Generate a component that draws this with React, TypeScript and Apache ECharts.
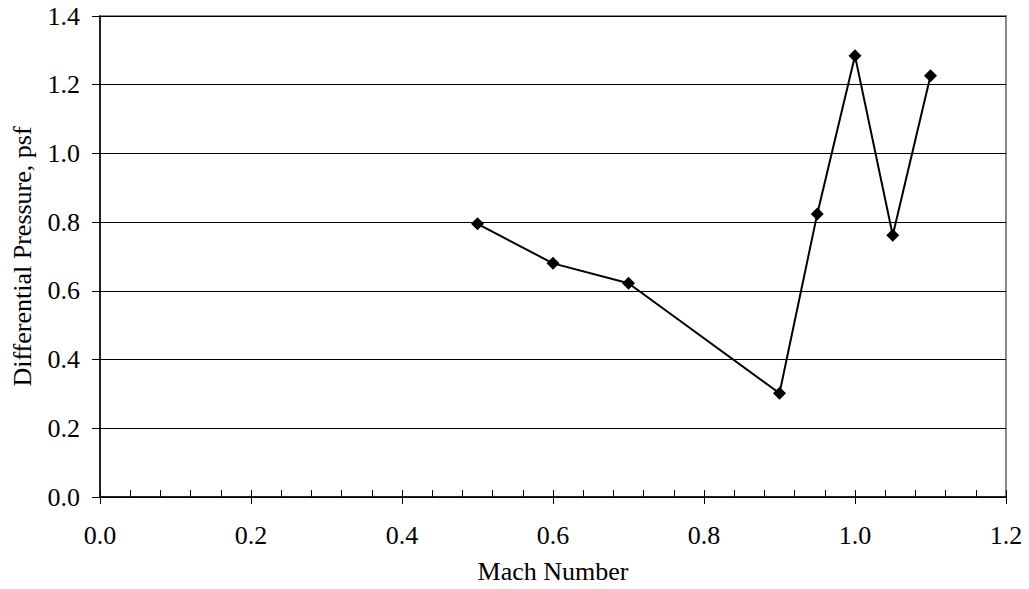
import React, { useEffect, useRef } from "react";
import * as echarts from "echarts";

// Mach number sweep and the measured differential pressure (psf)
const machNumbers: number[] = [0.5, 0.6, 0.7, 0.9, 0.95, 1.0, 1.05, 1.1];
const diffPressure: number[] = [0.795, 0.68, 0.622, 0.302, 0.824, 1.284, 0.762, 1.226];

const xTitle = "Mach Number";
const yTitle = "Differential Pressure, psf";

const FONT = "'Liberation Serif', 'Times New Roman', serif";
const FONT_SIZE = 26;

export default function App() {
  const ref = useRef<HTMLDivElement>(null);

  useEffect(() => {
    if (!ref.current) return;
    const chart = echarts.init(ref.current, undefined, { renderer: "svg" });
    const points = machNumbers.map((m, i) => [m, diffPressure[i]]);
    const fmt = (v: number) => v.toFixed(1);

    chart.setOption({
      animation: false,
      backgroundColor: "#ffffff",
      textStyle: { fontFamily: FONT, color: "#000" },
      grid: {
        left: 100,
        top: 16,
        right: 23,
        bottom: 90,
        show: true,
        borderColor: "#8a8a8a",
        borderWidth: 2,
        backgroundColor: "transparent",
      },
      xAxis: [
        {
          // minor ticks every 0.04, pointing into the plot
          type: "value",
          min: 0,
          max: 1.2,
          interval: 0.04,
          position: "bottom",
          axisLine: { show: true, lineStyle: { color: "#000", width: 1.5 } },
          axisTick: { show: true, inside: true, length: 7, lineStyle: { color: "#000", width: 1 } },
          axisLabel: { show: false },
          splitLine: { show: false },
        },
        {
          // major ticks and labels every 0.2
          type: "value",
          min: 0,
          max: 1.2,
          interval: 0.2,
          position: "bottom",
          axisLine: { show: false },
          axisTick: { show: true, inside: false, length: 7, lineStyle: { color: "#000", width: 1 } },
          axisLabel: {
            show: true,
            formatter: fmt,
            margin: 25,
            fontFamily: FONT,
            fontSize: FONT_SIZE,
            color: "#000",
          },
          splitLine: { show: false },
          name: xTitle,
          nameLocation: "middle",
          nameGap: 61,
          nameTextStyle: { fontFamily: FONT, fontSize: FONT_SIZE, color: "#000" },
        },
      ],
      yAxis: {
        type: "value",
        min: 0,
        max: 1.4,
        interval: 0.2,
        axisLine: { show: true, lineStyle: { color: "#000", width: 1.5 } },
        axisTick: { show: true, inside: false, length: 8, lineStyle: { color: "#000", width: 1 } },
        axisLabel: {
          formatter: fmt,
          margin: 20,
          fontFamily: FONT,
          fontSize: FONT_SIZE,
          color: "#000",
        },
        splitLine: { show: true, lineStyle: { color: "#000", width: 1 } },
        name: yTitle,
        nameLocation: "middle",
        nameGap: 65,
        nameTextStyle: { fontFamily: FONT, fontSize: FONT_SIZE, color: "#000" },
      },
      series: [
        {
          type: "line",
          xAxisIndex: 1,
          data: points,
          symbol: "diamond",
          symbolSize: 13,
          itemStyle: { color: "#000" },
          lineStyle: { color: "#000", width: 2 },
        },
      ],
    });

    return () => chart.dispose();
  }, []);

  return (
    <div
      ref={ref}
      style={{ position: "fixed", left: 0, top: 0, width: 1029, height: 589, background: "#fff" }}
    />
  );
}
